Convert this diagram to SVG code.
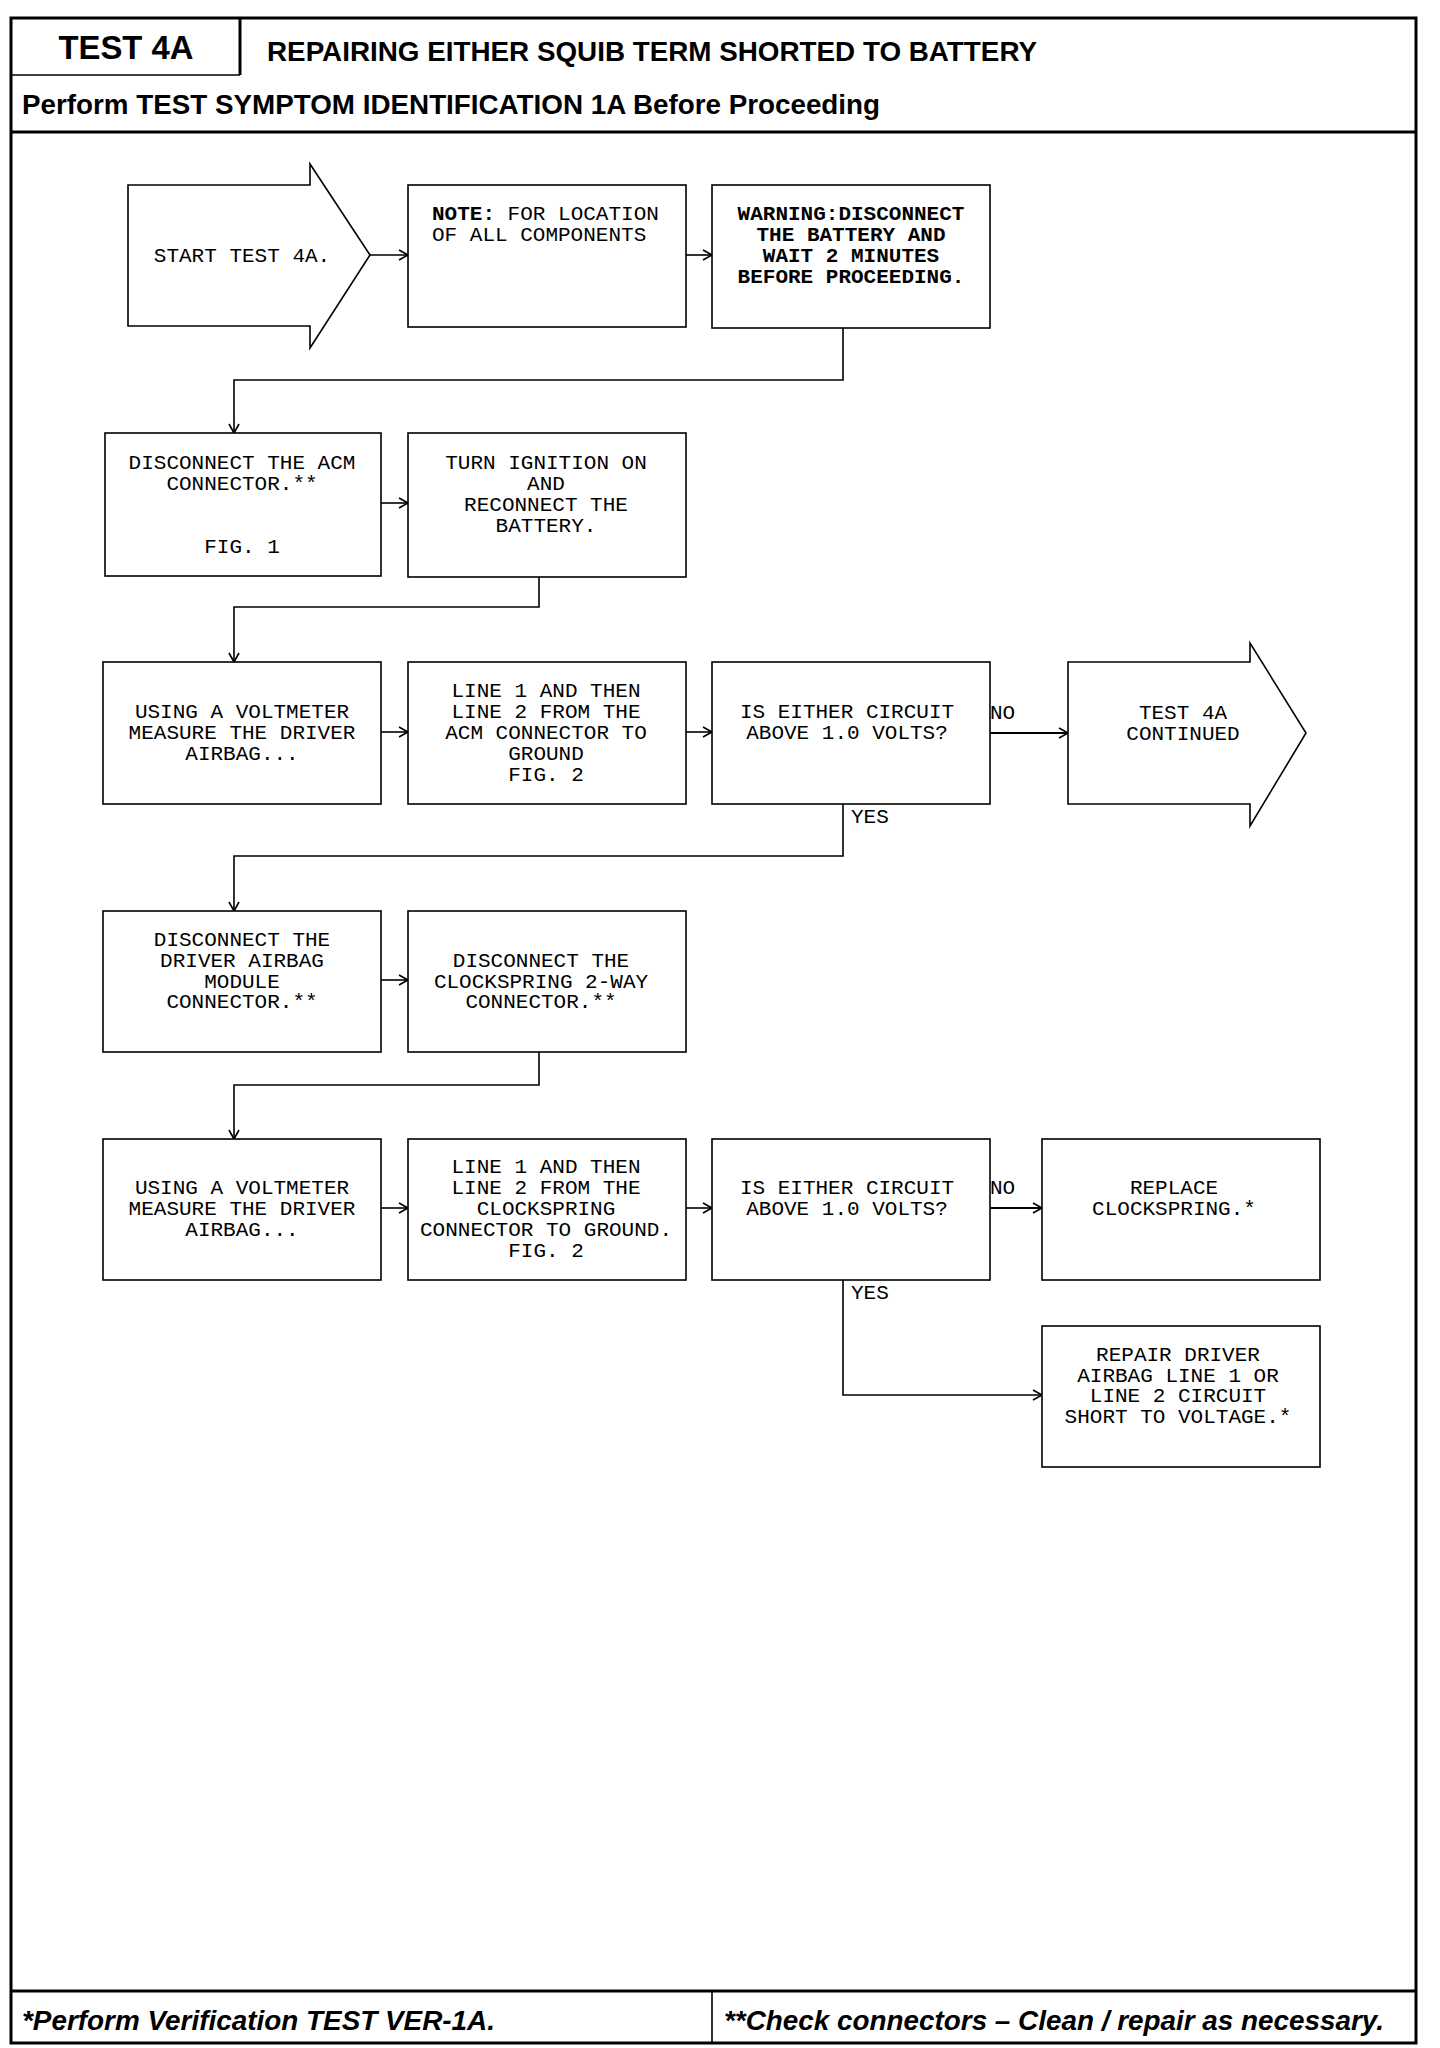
<svg xmlns="http://www.w3.org/2000/svg" width="1440" height="2048" viewBox="0 0 1440 2048">
<style>
.frame{fill:none;stroke:#000;stroke-width:3}
.thin{fill:none;stroke:#000;stroke-width:1.6}
.box{fill:#fff;stroke:#000;stroke-width:1.6}
.conn{fill:none;stroke:#000;stroke-width:1.6}
.conn2{fill:none;stroke:#000;stroke-width:2.2}
.m{font-family:"Liberation Mono","Courier New",monospace;font-size:21px;fill:#000;text-anchor:middle}
.ml{font-family:"Liberation Mono","Courier New",monospace;font-size:21px;fill:#000}
.b{font-weight:bold}
.h{font-family:"Liberation Sans",Arial,sans-serif;font-weight:bold;fill:#000}
.f{font-family:"Liberation Sans",Arial,sans-serif;font-weight:bold;font-style:italic;fill:#000;font-size:27px}
</style>
<defs>
<marker id="ah" markerWidth="12" markerHeight="12" refX="10" refY="6" orient="auto" markerUnits="userSpaceOnUse">
<path d="M1,1 L10,6 L1,11" fill="none" stroke="#000" stroke-width="1.6"/>
</marker>
</defs>
<rect width="1440" height="2048" fill="#fff"/>
<g id="frame">
<rect class="frame" x="11" y="18" width="1405" height="2025"/>
<line class="frame" x1="240" y1="18" x2="240" y2="75"/>
<line class="thin" x1="11" y1="75" x2="240" y2="75"/>
<line class="frame" x1="11" y1="132" x2="1416" y2="132"/>
<line class="frame" x1="11" y1="1991" x2="1416" y2="1991"/>
<line class="thin" x1="712" y1="1991" x2="712" y2="2043"/>
<text class="h" x="126" y="59" font-size="34" text-anchor="middle" textLength="135" lengthAdjust="spacingAndGlyphs">TEST 4A</text>
<text class="h" x="267" y="61" font-size="28" textLength="770" lengthAdjust="spacingAndGlyphs">REPAIRING EITHER SQUIB TERM SHORTED TO BATTERY</text>
<text class="h" x="22" y="114" font-size="27" textLength="858" lengthAdjust="spacingAndGlyphs">Perform TEST SYMPTOM IDENTIFICATION 1A Before Proceeding</text>
<text class="f" x="22" y="2030" textLength="473" lengthAdjust="spacingAndGlyphs">*Perform Verification TEST VER-1A.</text>
<text class="f" x="724" y="2030" textLength="660" lengthAdjust="spacingAndGlyphs">**Check connectors – Clean / repair as necessary.</text>
</g>
<g id="connectors">
<line class="conn" x1="370" y1="255" x2="408" y2="255" marker-end="url(#ah)"/>
<line class="conn" x1="686" y1="255" x2="712" y2="255" marker-end="url(#ah)"/>
<polyline class="conn" points="843,328 843,380 234,380 234,433" marker-end="url(#ah)"/>
<line class="conn" x1="381" y1="503" x2="408" y2="503" marker-end="url(#ah)"/>
<polyline class="conn" points="539,577 539,607 234,607 234,662" marker-end="url(#ah)"/>
<line class="conn" x1="381" y1="732" x2="408" y2="732" marker-end="url(#ah)"/>
<line class="conn" x1="686" y1="732" x2="712" y2="732" marker-end="url(#ah)"/>
<line class="conn2" x1="990" y1="733" x2="1068" y2="733" marker-end="url(#ah)"/>
<text class="ml" x="990" y="719">NO</text>
<polyline class="conn" points="843,804 843,856 234,856 234,911" marker-end="url(#ah)"/>
<text class="ml" x="851" y="823">YES</text>
<line class="conn" x1="381" y1="980" x2="408" y2="980" marker-end="url(#ah)"/>
<polyline class="conn" points="539,1052 539,1085 234,1085 234,1139" marker-end="url(#ah)"/>
<line class="conn" x1="381" y1="1208" x2="408" y2="1208" marker-end="url(#ah)"/>
<line class="conn" x1="686" y1="1208" x2="712" y2="1208" marker-end="url(#ah)"/>
<line class="conn2" x1="990" y1="1208" x2="1042" y2="1208" marker-end="url(#ah)"/>
<text class="ml" x="990" y="1194">NO</text>
<polyline class="conn" points="843,1280 843,1395 1042,1395" marker-end="url(#ah)"/>
<text class="ml" x="851" y="1299">YES</text>
</g>
<g id="start">
<polygon class="box" points="128,185 310,185 310,164 370,255 310,348 310,326 128,326"/>
<text class="m" x="242" y="262">START TEST 4A.</text>
</g>
<g id="note">
<rect class="box" x="408" y="185" width="278" height="142"/>
<text class="ml" x="432" y="220"><tspan class="b">NOTE:</tspan> FOR LOCATION</text>
<text class="ml" x="432" y="241">OF ALL COMPONENTS</text>
</g>
<g id="warning">
<rect class="box" x="712" y="185" width="278" height="143"/>
<text class="m b" x="851" y="220">WARNING:DISCONNECT</text>
<text class="m b" x="851" y="241">THE BATTERY AND</text>
<text class="m b" x="851" y="262">WAIT 2 MINUTES</text>
<text class="m b" x="851" y="283">BEFORE PROCEEDING.</text>
</g>
<g id="disconnect-acm">
<rect class="box" x="105" y="433" width="276" height="143"/>
<text class="m" x="242" y="469">DISCONNECT THE ACM</text>
<text class="m" x="242" y="490">CONNECTOR.**</text>
<text class="m" x="242" y="553">FIG. 1</text>
</g>
<g id="ignition-on">
<rect class="box" x="408" y="433" width="278" height="144"/>
<text class="m" x="546" y="469">TURN IGNITION ON</text>
<text class="m" x="546" y="490">AND</text>
<text class="m" x="546" y="511">RECONNECT THE</text>
<text class="m" x="546" y="532">BATTERY.</text>
</g>
<g id="measure-1">
<rect class="box" x="103" y="662" width="278" height="142"/>
<text class="m" x="242" y="718">USING A VOLTMETER</text>
<text class="m" x="242" y="739">MEASURE THE DRIVER</text>
<text class="m" x="242" y="760">AIRBAG...</text>
</g>
<g id="line-acm">
<rect class="box" x="408" y="662" width="278" height="142"/>
<text class="m" x="546" y="697">LINE 1 AND THEN</text>
<text class="m" x="546" y="718">LINE 2 FROM THE</text>
<text class="m" x="546" y="739">ACM CONNECTOR TO</text>
<text class="m" x="546" y="760">GROUND</text>
<text class="m" x="546" y="781">FIG. 2</text>
</g>
<g id="decision-1">
<rect class="box" x="712" y="662" width="278" height="142"/>
<text class="m" x="847" y="718">IS EITHER CIRCUIT</text>
<text class="m" x="847" y="739">ABOVE 1.0 VOLTS?</text>
</g>
<g id="continued">
<polygon class="box" points="1068,662 1250,662 1250,643 1306,733 1250,826 1250,804 1068,804"/>
<text class="m" x="1183" y="719">TEST 4A</text>
<text class="m" x="1183" y="740">CONTINUED</text>
</g>
<g id="disconnect-module">
<rect class="box" x="103" y="911" width="278" height="141"/>
<text class="m" x="242" y="946">DISCONNECT THE</text>
<text class="m" x="242" y="967">DRIVER AIRBAG</text>
<text class="m" x="242" y="988">MODULE</text>
<text class="m" x="242" y="1008">CONNECTOR.**</text>
</g>
<g id="disconnect-clockspring">
<rect class="box" x="408" y="911" width="278" height="141"/>
<text class="m" x="541" y="967">DISCONNECT THE</text>
<text class="m" x="541" y="988">CLOCKSPRING 2-WAY</text>
<text class="m" x="541" y="1008">CONNECTOR.**</text>
</g>
<g id="measure-2">
<rect class="box" x="103" y="1139" width="278" height="141"/>
<text class="m" x="242" y="1194">USING A VOLTMETER</text>
<text class="m" x="242" y="1215">MEASURE THE DRIVER</text>
<text class="m" x="242" y="1236">AIRBAG...</text>
</g>
<g id="line-clockspring">
<rect class="box" x="408" y="1139" width="278" height="141"/>
<text class="m" x="546" y="1173">LINE 1 AND THEN</text>
<text class="m" x="546" y="1194">LINE 2 FROM THE</text>
<text class="m" x="546" y="1215">CLOCKSPRING</text>
<text class="m" x="546" y="1236">CONNECTOR TO GROUND.</text>
<text class="m" x="546" y="1257">FIG. 2</text>
</g>
<g id="decision-2">
<rect class="box" x="712" y="1139" width="278" height="141"/>
<text class="m" x="847" y="1194">IS EITHER CIRCUIT</text>
<text class="m" x="847" y="1215">ABOVE 1.0 VOLTS?</text>
</g>
<g id="replace-clockspring">
<rect class="box" x="1042" y="1139" width="278" height="141"/>
<text class="m" x="1174" y="1194">REPLACE</text>
<text class="m" x="1174" y="1215">CLOCKSPRING.*</text>
</g>
<g id="repair-driver">
<rect class="box" x="1042" y="1326" width="278" height="141"/>
<text class="m" x="1178" y="1361">REPAIR DRIVER</text>
<text class="m" x="1178" y="1382">AIRBAG LINE 1 OR</text>
<text class="m" x="1178" y="1402">LINE 2 CIRCUIT</text>
<text class="m" x="1178" y="1423">SHORT TO VOLTAGE.*</text>
</g>
</svg>
